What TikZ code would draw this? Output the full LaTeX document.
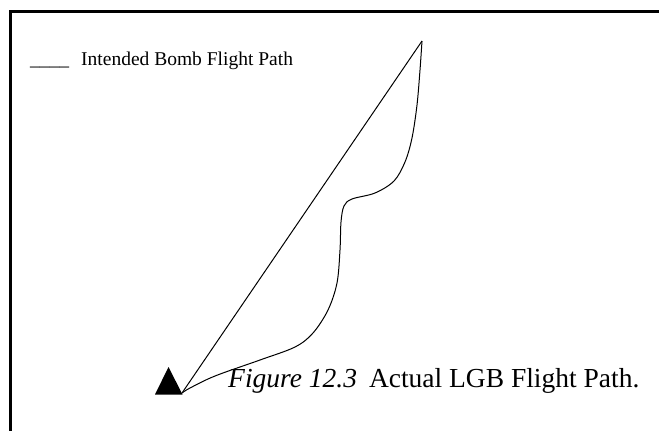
\documentclass[tikz,border=0pt]{standalone}
\usepackage{fontspec}
\setmainfont{Liberation Serif}
\begin{document}
\begin{tikzpicture}[x=1pt,y=-1pt,
  lbl/.style={inner sep=0pt,anchor=base west},
  path/.style={line width=1pt,line join=round}]
\useasboundingbox (0,0) rectangle (659,431);
% frame
\draw[line width=3pt] (10.5,431) -- (10.5,11.5) -- (659,11.5);
% legend
\node[lbl,font=\fontsize{19.5}{24}\selectfont] (legend) at (30,65) {\_\_\_\_\hspace{12pt}Intended Bomb Flight Path};
% target
\coordinate (target) at (182,393);
\coordinate (tip) at (422,41);
\fill (155,394.5) -- (182.5,394.5) -- (168.5,367) -- cycle;
% intended path
\draw[path] (target) -- (tip);
% actual path
\draw[path] plot[smooth,tension=0.55] coordinates {
 (422,41) (420,70) (417,105) (412,138) (405,162) (394,181) (375,193)
 (352,199) (344,206) (341,222) (340,250) (337,283) (328,310) (313,333)
 (295,347) (260,360) (215,376) (190,388) (182,393)};
% caption
\node[lbl,font=\fontsize{27.5}{32}\selectfont] (caption) at (228,387) {\textit{Figure 12.3}\hspace{12pt}Actual LGB Flight Path.};
\end{tikzpicture}
\end{document}
